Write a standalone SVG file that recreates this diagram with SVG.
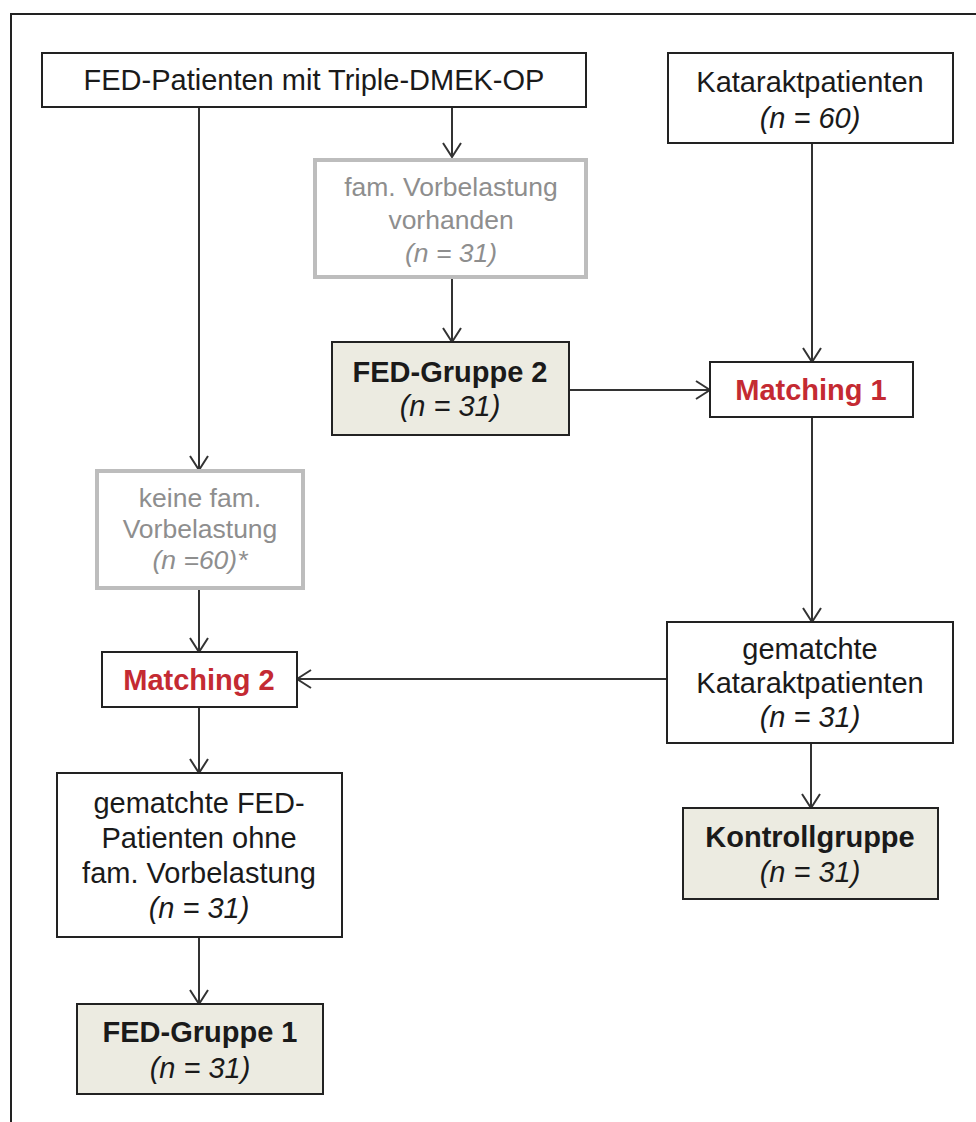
<svg xmlns="http://www.w3.org/2000/svg" width="976" height="1122" viewBox="0 0 976 1122">
<style>
.box{fill:#ffffff;stroke:#222222;stroke-width:2}
.gbox{fill:#ffffff;stroke:#bdbdbd;stroke-width:4}
.fbox{fill:#ecebe1;stroke:#222222;stroke-width:2}
.t{font-family:"Liberation Sans",Arial,sans-serif;font-size:29px;fill:#1a1a1a;text-anchor:middle}
.g{font-family:"Liberation Sans",Arial,sans-serif;font-size:26.5px;fill:#8e8e8e;text-anchor:middle}
.b{font-weight:bold}
.i{font-style:italic}
.r{fill:#c42a32;font-weight:bold}
.c{stroke:#333333;stroke-width:2;fill:none}
</style>
<defs>
<marker id="arr" viewBox="0 0 16 20" refX="15" refY="10" markerWidth="16" markerHeight="20" orient="auto" markerUnits="userSpaceOnUse">
<path d="M1,1 L15,10 L1,19" fill="none" stroke="#333333" stroke-width="2"/>
</marker>
</defs>
<rect x="0" y="0" width="976" height="1122" fill="#ffffff"/>
<rect x="11" y="14" width="980" height="1120" fill="none" stroke="#222222" stroke-width="2"/>
<g id="connectors">
<line class="c" x1="199" y1="107" x2="199" y2="470" marker-end="url(#arr)"/>
<line class="c" x1="452" y1="107" x2="452" y2="157" marker-end="url(#arr)"/>
<line class="c" x1="452" y1="279" x2="452" y2="342" marker-end="url(#arr)"/>
<line class="c" x1="569" y1="390" x2="710" y2="390" marker-end="url(#arr)"/>
<line class="c" x1="812" y1="144" x2="812" y2="362" marker-end="url(#arr)"/>
<line class="c" x1="812" y1="417" x2="812" y2="622" marker-end="url(#arr)"/>
<line class="c" x1="667" y1="679" x2="297" y2="679" marker-end="url(#arr)"/>
<line class="c" x1="199" y1="590" x2="199" y2="652" marker-end="url(#arr)"/>
<line class="c" x1="199" y1="707" x2="199" y2="773" marker-end="url(#arr)"/>
<line class="c" x1="811" y1="743" x2="811" y2="808" marker-end="url(#arr)"/>
<line class="c" x1="199" y1="937" x2="199" y2="1004" marker-end="url(#arr)"/>
</g>
<g id="fed-patienten">
<rect class="box" x="42" y="53" width="544" height="54"/>
<text class="t" x="314" y="90">FED-Patienten mit Triple-DMEK-OP</text>
</g>
<g id="kataraktpatienten">
<rect class="box" x="668" y="53" width="285" height="90"/>
<text class="t" x="810" y="92">Kataraktpatienten</text>
<text class="t i" x="810" y="128">(n = 60)</text>
</g>
<g id="fam-vorbelastung">
<rect class="gbox" x="315" y="160" width="271" height="117"/>
<text class="g" x="451" y="196">fam. Vorbelastung</text>
<text class="g" x="451" y="229">vorhanden</text>
<text class="g i" x="451" y="262">(n = 31)</text>
</g>
<g id="fed-gruppe-2">
<rect class="fbox" x="332" y="342" width="237" height="93"/>
<text class="t b" x="450" y="382">FED-Gruppe 2</text>
<text class="t i" x="450" y="416">(n = 31)</text>
</g>
<g id="matching-1">
<rect class="box" x="710" y="362" width="203" height="55"/>
<text class="t r" x="811" y="400">Matching 1</text>
</g>
<g id="keine-fam-vorbelastung">
<rect class="gbox" x="97" y="471" width="206" height="117"/>
<text class="g" x="200" y="507">keine fam.</text>
<text class="g" x="200" y="538">Vorbelastung</text>
<text class="g i" x="200" y="569">(n =60)*</text>
</g>
<g id="matching-2">
<rect class="box" x="102" y="652" width="195" height="55"/>
<text class="t r" x="199" y="690">Matching 2</text>
</g>
<g id="gematchte-katarakt">
<rect class="box" x="667" y="622" width="286" height="121"/>
<text class="t" x="810" y="659">gematchte</text>
<text class="t" x="810" y="693">Kataraktpatienten</text>
<text class="t i" x="810" y="727">(n = 31)</text>
</g>
<g id="kontrollgruppe">
<rect class="fbox" x="683" y="808" width="255" height="91"/>
<text class="t b" x="810" y="847">Kontrollgruppe</text>
<text class="t i" x="810" y="882">(n = 31)</text>
</g>
<g id="gematchte-fed">
<rect class="box" x="57" y="773" width="285" height="164"/>
<text class="t" x="199" y="813">gematchte FED-</text>
<text class="t" x="199" y="848">Patienten ohne</text>
<text class="t" x="199" y="883">fam. Vorbelastung</text>
<text class="t i" x="199" y="918">(n = 31)</text>
</g>
<g id="fed-gruppe-1">
<rect class="fbox" x="77" y="1004" width="246" height="90"/>
<text class="t b" x="200" y="1042">FED-Gruppe 1</text>
<text class="t i" x="200" y="1078">(n = 31)</text>
</g>
</svg>
